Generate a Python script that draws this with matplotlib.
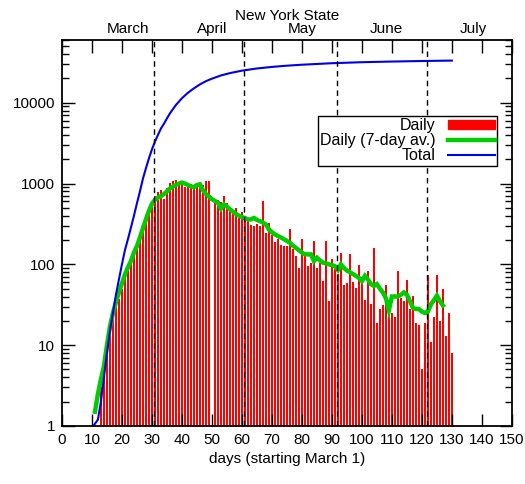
import numpy as np
import matplotlib
matplotlib.use("Agg")
import matplotlib.pyplot as plt
from matplotlib.patches import Patch
from matplotlib.lines import Line2D
import matplotlib.transforms as mtransforms

plt.rcParams['font.family'] = ['Liberation Sans', 'DejaVu Sans']

# daily values, days 13..130 (day 50 missing)
days = np.arange(13, 131)
daily = [3, 5, 10, 14, 23, 30, 37, 49, 79, 95, 120, 139, 153, 224, 284, 359, 478, 605,
         700, 780, 843, 640, 885, 1020, 1068, 1100, 1020, 960, 900, 1000, 1000, 950, 970, 1000,
         950, 1080, 1080, 0, 650, 620, 590, 700, 580, 470, 455, 500, 370, 450, 400, 380,
         310, 297, 320, 300, 605, 245, 327, 230, 190, 205, 175, 170, 168, 275, 153, 128,
         91, 205, 130, 95, 104, 197, 89, 104, 62, 192, 35, 115, 90, 75, 139, 55, 58, 133,
         60, 51, 97, 70, 36, 83, 32, 160, 19, 28, 31, 56, 27, 25, 22, 83, 38, 35, 64, 28,
         41, 19, 18, 5, 19, 73, 11, 22, 74, 20, 50, 13, 25, 8]

# 7-day average, days 11..127
avg_days = np.arange(11, 128)
avg7 = [1.5, 2.5, 3.8, 5.5, 10, 17, 25, 34, 45, 58, 75, 92, 110, 140, 168, 215, 280, 360,
        460, 560, 630, 670, 700, 740, 800, 870, 920, 960, 1000, 1030, 1000, 960, 920, 900,
        960, 980, 830, 740, 690, 640, 610, 580, 490, 550, 520, 480, 450, 420, 400, 385,
        375, 360, 360, 375, 355, 343, 330, 310, 270, 250, 235, 224, 215, 205, 195, 185,
        170, 160, 150, 140, 133, 133, 133, 110, 121, 112, 105, 103, 100, 98, 95, 85, 100,
        90, 84, 80, 76, 72, 68, 62, 72, 65, 57, 54, 57, 50, 45, 38, 27, 40, 40, 40, 42,
        45, 42, 35, 29, 28, 28, 26, 25, 26, 32, 36, 41, 35, 31]

# cumulative total
tot_days = [10.5, 12, 13, 14, 15, 16, 17, 18, 19, 20, 21, 22, 23, 24, 25, 26, 27, 28, 29, 30,
            31, 32, 33, 34, 35, 36, 38, 40, 42, 44, 46, 48, 50, 53, 56, 60, 65, 70, 75,
            80, 90, 100, 110, 120, 130]
total = [1, 1.2, 2, 4, 8, 15, 25, 42, 65, 100, 150, 205, 285, 400, 570, 800, 1150, 1550,
         2050, 2650, 3300, 4000, 4800, 5500, 6400, 7400, 9400, 11400, 13300, 15100, 16900,
         18500, 19900, 21800, 23300, 25000, 26600, 27800, 28800, 29600, 30900, 31800,
         32400, 32900, 33300]

month_names = ['March', 'April', 'May', 'June', 'July']
month_pos = [22, 50, 80, 108, 137]
month_starts = [30.7, 60.7, 91.7, 121.7]

fig = plt.figure(figsize=(5.25, 4.84), dpi=100)
ax = fig.add_axes([0.118, 0.12, 0.857, 0.7975])

ax.bar(days, daily, width=0.8, color='#ff0000', linewidth=0)
ax.plot(avg_days, avg7, color='#00cc00', lw=3.2, solid_joinstyle='miter')
ax.plot(tot_days, total, color='#0000e6', lw=1.5)
for m in month_starts:
    ax.axvline(m, color='black', lw=1, ls=(0, (4, 3)))

ax.set_yscale('log')
ax.set_xlim(0, 150)
ax.set_ylim(1, 60000)
ax.set_xticks(np.arange(0, 151, 10))
ax.set_yticks([1, 10, 100, 1000, 10000])
ax.set_yticklabels(['1', '10', '100', '1000', '10000'])
ax.tick_params(which='major', direction='in', top=True, right=True, length=9, width=1,
               labelsize=11, pad=5)
ax.tick_params(which='minor', direction='in', top=False, right=True, length=5, width=1)
ax.tick_params(axis='x', which='minor', bottom=False, top=False)
for s in ax.spines.values():
    s.set_linewidth(1.3)

ax.set_xlabel('days (starting March 1)', fontsize=11, labelpad=4)

trans = mtransforms.blended_transform_factory(ax.transData, ax.transAxes)
for name, pos in zip(month_names, month_pos):
    ax.text(pos, 1.029, name, transform=trans, ha='center', va='center', fontsize=11)
ax.text(0.5, 1.062, 'New York State', transform=ax.transAxes, ha='center', va='center',
        fontsize=11)

handles = [Patch(color='#ff0000'),
           Line2D([], [], color='#00cc00', lw=3.2),
           Line2D([], [], color='#0000e6', lw=1.5)]
leg = ax.legend(handles, ['Daily', 'Daily (7-day av.)', 'Total'], loc='upper right',
                bbox_to_anchor=(0.967, 0.803), markerfirst=False, fontsize=11.5,
                fancybox=False, framealpha=1, edgecolor='black', handlelength=2.9,
                handleheight=0.5, borderpad=0.15, labelspacing=0.0, handletextpad=0.8,
                borderaxespad=0)
leg.get_frame().set_linewidth(1)

fig.savefig('out.png', dpi=100)
